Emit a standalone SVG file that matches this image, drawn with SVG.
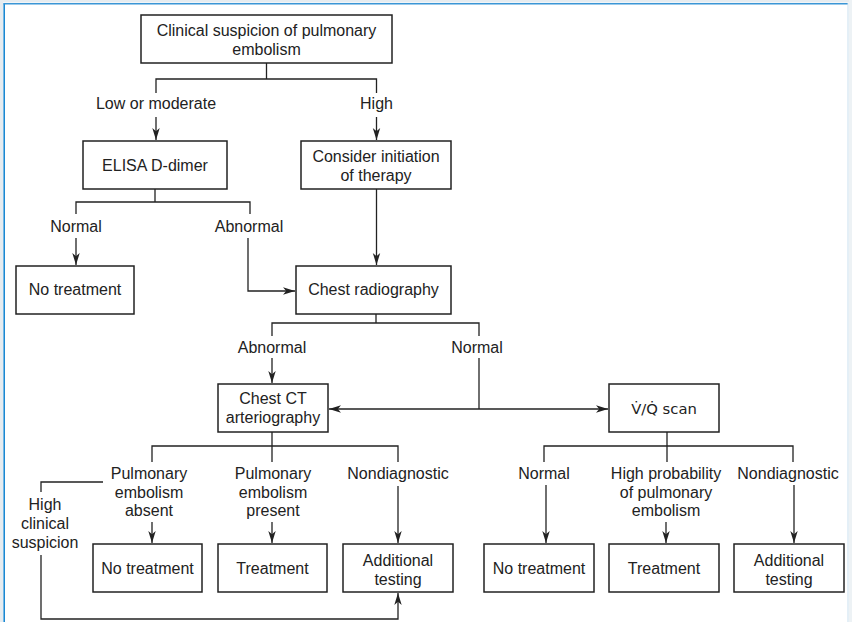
<svg xmlns="http://www.w3.org/2000/svg" width="852" height="622" viewBox="0 0 852 622">
  <style>
    .box { fill: #ffffff; stroke: #222222; stroke-width: 1.5; }
    .ln { fill: none; stroke: #222222; stroke-width: 1.3; }
    .t { font-family: "Liberation Sans", Arial, Helvetica, sans-serif; font-size: 16px; fill: #222222; text-anchor: middle; }
    .vq { font-family: "DejaVu Sans", "Liberation Sans", sans-serif; font-size: 14.8px; }
  </style>
  <defs>
    <marker id="arr" markerUnits="userSpaceOnUse" markerWidth="13" markerHeight="9" refX="12" refY="4.5" orient="auto-start-reverse">
      <path d="M0,0.8 L12,4.5 L0,8.2 L3.2,4.5 z" fill="#222222"/>
    </marker>
  </defs>

  <!-- page frame -->
  <rect x="0" y="0" width="852" height="622" fill="#ffffff"/>
  <rect x="0" y="0" width="3" height="622" fill="#e6ecf0"/>
  <rect x="0" y="0" width="852" height="2.5" fill="#e6ecf0"/>
  <rect x="849" y="0" width="3" height="622" fill="#edf2f5"/>
  <line x1="4.2" y1="3.2" x2="4.2" y2="622" stroke="#1a88d2" stroke-width="1.6"/>
  <line x1="3.5" y1="3.7" x2="848" y2="3.7" stroke="#3a96d6" stroke-width="1.4"/>
  <line x1="848" y1="3" x2="848" y2="622" stroke="#c9dfee" stroke-width="1"/>

  <!-- connectors -->
  <g id="connectors">
    <path class="ln" d="M266.5,63 V79 M156,93 V79 H376.5 V93"/>
    <path class="ln" marker-end="url(#arr)" d="M156,117 V140"/>
    <path class="ln" marker-end="url(#arr)" d="M376.5,117 V140"/>
    <path class="ln" d="M155,189 V202 M76,214 V202 H250 V214"/>
    <path class="ln" marker-end="url(#arr)" d="M76,238 V265"/>
    <path class="ln" marker-end="url(#arr)" d="M248,238 V291 H295"/>
    <path class="ln" marker-end="url(#arr)" d="M376.5,189 V265"/>
    <path class="ln" d="M376,314 V323 M272,336 V323 H479 V336"/>
    <path class="ln" marker-end="url(#arr)" d="M272,358 V383"/>
    <path class="ln" d="M479,358 V409"/>
    <path class="ln" marker-start="url(#arr)" marker-end="url(#arr)" d="M329,409 H608"/>
    <path class="ln" d="M272,432 V462 M152,462 V446 H398 V462"/>
    <path class="ln" d="M667,432 V462 M544,462 V446 H793 V462"/>
    <path class="ln" marker-end="url(#arr)" d="M152,522 V543"/>
    <path class="ln" marker-end="url(#arr)" d="M272,522 V543"/>
    <path class="ln" marker-end="url(#arr)" d="M398,486 V543"/>
    <path class="ln" marker-end="url(#arr)" d="M546,485 V543"/>
    <path class="ln" marker-end="url(#arr)" d="M666,522 V543"/>
    <path class="ln" marker-end="url(#arr)" d="M794,485 V543"/>
    <path class="ln" d="M103,482 H41 V492"/>
    <path class="ln" marker-end="url(#arr)" d="M41,555 V619 H398 V593"/>
    <!-- branch labels -->
    <text class="t" x="156" y="109">Low or moderate</text>
    <text class="t" x="376.5" y="109">High</text>
    <text class="t" x="76" y="232">Normal</text>
    <text class="t" x="249" y="232">Abnormal</text>
    <text class="t" x="272" y="353">Abnormal</text>
    <text class="t" x="477" y="353">Normal</text>
    <text class="t" x="149" y="479">Pulmonary</text>
    <text class="t" x="149" y="498">embolism</text>
    <text class="t" x="149" y="516">absent</text>
    <text class="t" x="273" y="479">Pulmonary</text>
    <text class="t" x="273" y="498">embolism</text>
    <text class="t" x="273" y="516">present</text>
    <text class="t" x="398" y="479">Nondiagnostic</text>
    <text class="t" x="544" y="479">Normal</text>
    <text class="t" x="666" y="479">High probability</text>
    <text class="t" x="666" y="498">of pulmonary</text>
    <text class="t" x="666" y="516">embolism</text>
    <text class="t" x="788" y="479">Nondiagnostic</text>
    <text class="t" x="45" y="510">High</text>
    <text class="t" x="45" y="529">clinical</text>
    <text class="t" x="45" y="548">suspicion</text>
  </g>

  <!-- nodes -->
  <g id="suspicion">
    <rect class="box" x="141" y="15" width="251" height="48"/>
    <text class="t" x="266.5" y="36">Clinical suspicion of pulmonary</text>
    <text class="t" x="266.5" y="55">embolism</text>
  </g>
  <g id="ddimer">
    <rect class="box" x="83" y="141" width="144" height="48"/>
    <text class="t" x="155" y="171">ELISA D-dimer</text>
  </g>
  <g id="therapy">
    <rect class="box" x="301" y="141" width="150" height="48"/>
    <text class="t" x="376" y="162">Consider initiation</text>
    <text class="t" x="376" y="181">of therapy</text>
  </g>
  <g id="no-treatment-1">
    <rect class="box" x="16" y="266" width="118" height="48"/>
    <text class="t" x="75" y="295">No treatment</text>
  </g>
  <g id="radiography">
    <rect class="box" x="296" y="266" width="155" height="48"/>
    <text class="t" x="373.5" y="295">Chest radiography</text>
  </g>
  <g id="ct">
    <rect class="box" x="218" y="384" width="110" height="48"/>
    <text class="t" x="273" y="404">Chest CT</text>
    <text class="t" x="273" y="423">arteriography</text>
  </g>
  <g id="vq">
    <rect class="box" x="609" y="384" width="110" height="48"/>
    <text class="t vq" x="664" y="414">V̇/Q̇ scan</text>
  </g>
  <g id="ct-no-treatment">
    <rect class="box" x="93" y="544" width="109" height="48"/>
    <text class="t" x="147.5" y="574">No treatment</text>
  </g>
  <g id="ct-treatment">
    <rect class="box" x="218" y="544" width="109" height="48"/>
    <text class="t" x="272.5" y="574">Treatment</text>
  </g>
  <g id="ct-additional">
    <rect class="box" x="343" y="544" width="110" height="48"/>
    <text class="t" x="398" y="566">Additional</text>
    <text class="t" x="398" y="585">testing</text>
  </g>
  <g id="vq-no-treatment">
    <rect class="box" x="484" y="544" width="110" height="48"/>
    <text class="t" x="539" y="574">No treatment</text>
  </g>
  <g id="vq-treatment">
    <rect class="box" x="609" y="544" width="110" height="48"/>
    <text class="t" x="664" y="574">Treatment</text>
  </g>
  <g id="vq-additional">
    <rect class="box" x="734" y="544" width="110" height="48"/>
    <text class="t" x="789" y="566">Additional</text>
    <text class="t" x="789" y="585">testing</text>
  </g>
</svg>
